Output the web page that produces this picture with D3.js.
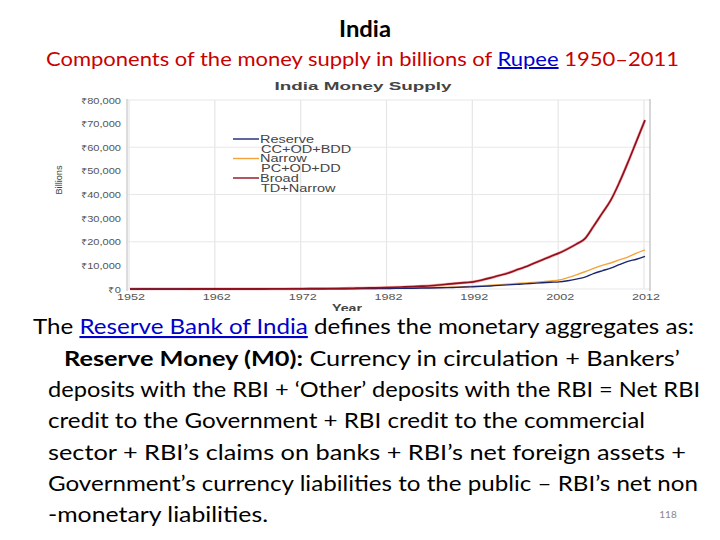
<!DOCTYPE html>
<html><head><meta charset="utf-8">
<script src="https://cdn.jsdelivr.net/npm/d3@7"></script>
<style>body{margin:0;background:#fff}svg{display:block}</style>
</head><body>
<svg id="c" width="720" height="540"></svg>
<script>
const years = d3.range(1952, 2013);
const reserve = [12,12,13,13,14,15,16,17,18,19,
  20,22,24,26,28,30,33,36,40,45,
  50,58,66,76,90,105,125,150,175,200,
  230,260,300,345,395,450,520,600,700,820,
  960,1100,1300,1550,1750,1950,2150,2400,2650,2850,
  3000,3500,4200,5000,6500,7700,8800,10300,11700,12600,13800];
const narrow = [14,15,15,16,17,18,19,20,21,22,
  24,26,28,30,33,36,40,44,50,56,
  64,74,84,95,115,135,160,190,220,255,
  290,330,380,430,490,560,640,740,860,1000,
  1150,1350,1600,1850,2050,2300,2550,2800,3100,3400,
  3800,4800,6000,7300,8700,10000,11000,12300,13500,15200,16600];
const broad = [18,19,20,22,24,26,29,32,35,38,
  41,45,49,54,60,67,74,83,93,108,
  124,145,165,190,230,280,340,400,470,550,
  640,750,880,1030,1200,1400,1700,2050,2400,2700,
  3000,3800,4700,5700,6700,8000,9300,10800,12300,13800,
  15200,17000,19000,21300,26500,32000,37500,45000,53500,62500,71500];
const seriesNames = ["Reserve","Narrow","Broad"];
const seriesSubs = ["CC+OD+BDD","PC+OD+DD","TD+Narrow"];
const seriesColors = ["#1b2470","#f2a43a","#8e0f1e"];
const xTicks = [1952,1962,1972,1982,1992,2002,2012];
const yTicks = [0,10000,20000,30000,40000,50000,60000,70000,80000];
const gridY = [0,20000,40000,60000,80000];

const svg = d3.select("#c");
const stretch = (sel, f) => sel.each(function(){
  const l = this.getComputedTextLength();
  d3.select(this).attr("textLength", l*f).attr("lengthAdjust","spacingAndGlyphs");
});
const fit = (sel, w) => sel.attr("textLength", w).attr("lengthAdjust","spacingAndGlyphs");

// ----- slide header -----
fit(svg.append("text").attr("x",365).attr("y",37).attr("text-anchor","middle")
  .attr("font-family","Lato, 'Open Sans', sans-serif").attr("font-weight","bold")
  .attr("font-size",22).attr("fill","#000").text("India"), 52);

const sub = svg.append("text").attr("x",46).attr("y",66)
  .attr("font-family","Lato, 'Open Sans', sans-serif").attr("font-size",20).attr("fill","#c80000");
sub.append("tspan").text("Components of the money supply in billions of ");
sub.append("tspan").attr("fill","#0000cc").attr("text-decoration","underline").text("Rupee");
sub.append("tspan").text(" 1950\u20132011");
fit(sub, 633);

// ----- chart -----
const clip = svg.append("clipPath").attr("id","cp");
clip.append("rect").attr("x",40).attr("y",72).attr("width",650).attr("height",239);
const g = svg.append("g").attr("clip-path","url(#cp)");

const x = d3.scaleLinear().domain([1952,2012]).range([130,645]);
const y = d3.scaleLinear().domain([0,80000]).range([289,100]);

g.append("g").selectAll("line").data(xTicks).join("line")
  .attr("x1",d=>x(d)-1).attr("x2",d=>x(d)-1).attr("y1",y(80000)).attr("y2",y(0))
  .attr("stroke","#e6e6e6").attr("stroke-width",1.2);
g.append("g").selectAll("line").data(gridY).join("line")
  .attr("x1",127).attr("x2",650).attr("y1",d=>y(d)).attr("y2",d=>y(d))
  .attr("stroke","#e8e8e8").attr("stroke-width",1.2);
g.append("line").attr("x1",127).attr("x2",127).attr("y1",99).attr("y2",291).attr("stroke","#d0d0d0").attr("stroke-width",1.5);
g.append("line").attr("x1",650).attr("x2",650).attr("y1",99).attr("y2",291).attr("stroke","#bdbdbd").attr("stroke-width",1.2);

const fmt = d => "\u20b9" + d3.format(",")(d);
const yl = g.append("g").selectAll("text").data(yTicks).join("text")
  .attr("x",121).attr("y",d=>y(d)+3.5).attr("text-anchor","end")
  .attr("font-family","'Liberation Sans', Arial, sans-serif").attr("font-size",8.5)
  .attr("fill","#555").text(fmt);
stretch(yl, 1.3);
const xl = g.append("g").selectAll("text").data(xTicks).join("text")
  .attr("x",d=>x(d)+1).attr("y",300).attr("text-anchor","middle")
  .attr("font-family","'Liberation Sans', Arial, sans-serif").attr("font-size",9)
  .attr("fill","#555").text(d=>d);
stretch(xl, 1.4);

const title = g.append("text").attr("x",363).attr("y",90).attr("text-anchor","middle")
  .attr("font-family","'Liberation Sans', Arial, sans-serif").attr("font-weight","bold")
  .attr("font-size",10.5).attr("fill","#444").text("India Money Supply");
fit(title, 177);
const yt = g.append("text").attr("transform","translate(62,180) rotate(-90)").attr("text-anchor","middle")
  .attr("font-family","'Liberation Sans', Arial, sans-serif").attr("font-size",9).attr("fill","#444").text("Billions");
fit(yt, 29);
const xt = g.append("text").attr("x",347).attr("y",312).attr("text-anchor","middle")
  .attr("font-family","'Liberation Sans', Arial, sans-serif").attr("font-weight","bold")
  .attr("font-size",10).attr("fill","#444").text("Year");
fit(xt, 30);

const allSeries = [reserve, narrow, broad];
const line = d3.line().x((d,i)=>x(years[i])).y(d=>y(d)).curve(d3.curveMonotoneX);
g.append("path").attr("d",line(broad)).attr("fill","none").attr("stroke","#e83a3a").attr("stroke-width",2.8).attr("stroke-opacity",0.45);
[1,0,2].forEach(k=>{
  g.append("path").attr("d",line(allSeries[k])).attr("fill","none")
    .attr("stroke",seriesColors[k]).attr("stroke-width",k===2?1.6:1.4).attr("stroke-linejoin","round");
});

// legend
const lg = g.append("g");
seriesNames.forEach((n,i)=>{
  const yy = 139 + i*19.5;
  lg.append("line").attr("x1",233).attr("x2",259).attr("y1",yy).attr("y2",yy)
    .attr("stroke",seriesColors[i]).attr("stroke-width",1.4);
  const t1 = lg.append("text").attr("x",260).attr("y",yy+3.5)
    .attr("font-family","'Liberation Sans', Arial, sans-serif").attr("font-size",10).attr("fill","#444").text(n);
  stretch(t1, 1.45);
  const t2 = lg.append("text").attr("x",261).attr("y",yy+13.5)
    .attr("font-family","'Liberation Sans', Arial, sans-serif").attr("font-size",10).attr("fill","#444").text(seriesSubs[i]);
  stretch(t2, 1.45);
});

// ----- body text -----
const bodyFont = "Lato, 'Open Sans', sans-serif";
const lines = [
  {x:33, y:334, w:661, parts:[["The ",0],["Reserve Bank of India",2],[" defines the monetary aggregates as:",0]]},
  {x:64, y:366, w:616, parts:[["Reserve Money (M0):",1],[" Currency in circulation + Bankers\u2019",0]]},
  {x:48, y:397, w:652, parts:[["deposits with the RBI + \u2018Other\u2019 deposits with the RBI = Net RBI",0]]},
  {x:48, y:428, w:597, parts:[["credit to the Government + RBI credit to the commercial",0]]},
  {x:48, y:460, w:638, parts:[["sector + RBI\u2019s claims on banks + RBI\u2019s net foreign assets +",0]]},
  {x:48, y:491, w:650, parts:[["Government\u2019s currency liabilities to the public \u2013 RBI\u2019s net non",0]]},
  {x:48, y:522, w:220, parts:[["-monetary liabilities.",0]]}
];
lines.forEach(L=>{
  const t = svg.append("text").attr("x",L.x).attr("y",L.y)
    .attr("font-family",bodyFont).attr("font-size",21).attr("fill","#000");
  L.parts.forEach(([s,k])=>{
    const ts = t.append("tspan").text(s);
    if(k===1) ts.attr("font-weight","bold");
    if(k===2) ts.attr("fill","#0000cc").attr("text-decoration","underline");
  });
  fit(t, L.w);
});
svg.append("text").attr("x",668).attr("y",518).attr("text-anchor","middle")
  .attr("font-family",bodyFont).attr("font-size",10).attr("fill","#888").text("118");
</script>
</body></html>
